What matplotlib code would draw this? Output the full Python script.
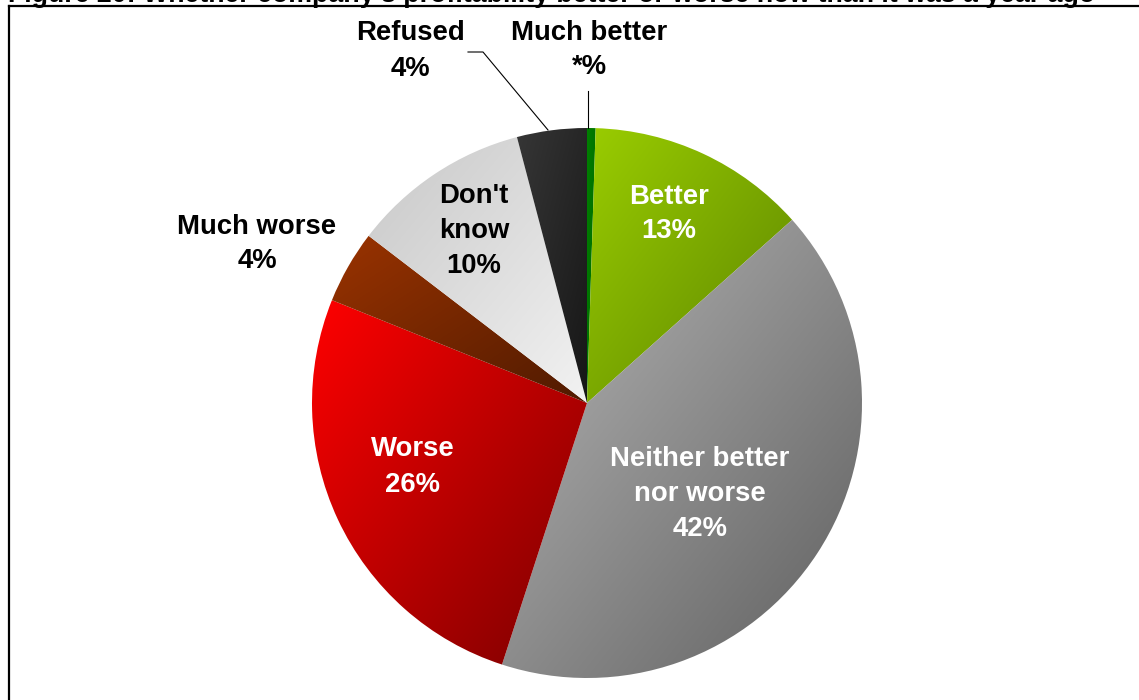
import numpy as np
import matplotlib
matplotlib.use("Agg")
import matplotlib.pyplot as plt
from matplotlib.colors import to_rgb

plt.rcParams['font.family'] = ['Liberation Sans', 'DejaVu Sans']

title = "Figure 20: Whether company's profitability better or worse now than it was a year ago"
categories = ["Much better", "Better", "Neither better\nnor worse", "Worse",
              "Much worse", "Don't\nknow", "Refused"]
values = [0.5, 12.9, 41.6, 26.1, 4.3, 10.5, 4.1]
pct_labels = ["*%", "13%", "42%", "26%", "4%", "10%", "4%"]
# gradient colours (start at upper-left, end at lower-right)
grad_start = ["#008000", "#9acd00", "#b8b8b8", "#ff0000", "#9a3300", "#c8c8c8", "#363636"]
grad_end = ["#006600", "#5c8400", "#5e5e5e", "#7a0000", "#4f1a00", "#f2f2f2", "#161616"]

W, H = 1139, 700
fig = plt.figure(figsize=(W / 100, H / 100), dpi=100)
ax = fig.add_axes([0, 0, 1, 1])

cx, cy, R = 587, H - 403, 275
wedges, _ = ax.pie(values, startangle=90, counterclock=False, center=(cx, cy),
                   radius=R, wedgeprops=dict(linewidth=0, edgecolor='none'),
                   frame=True)
ax.set_xlim(0, W)
ax.set_ylim(0, H)
ax.set_aspect('equal')
ax.axis('off')

n = 200
for w, c0, c1 in zip(wedges, grad_start, grad_end):
    w.set_facecolor('none')
    verts = w.get_path().vertices
    verts = w.get_patch_transform().transform(verts)
    x0, y0 = verts.min(axis=0)
    x1, y1 = verts.max(axis=0)
    gx, gy = np.meshgrid(np.linspace(0, 1, n), np.linspace(0, 1, n))
    t = (gx + gy) / 2.0  # row 0 is top (origin upper)
    a, b = np.array(to_rgb(c0)), np.array(to_rgb(c1))
    img = a[None, None, :] * (1 - t[..., None]) + b[None, None, :] * t[..., None]
    im = ax.imshow(img, extent=(x0, x1, y0, y1), origin='upper',
                   interpolation='bilinear', zorder=1)
    im.set_clip_path(w)
ax.set_xlim(0, W)
ax.set_ylim(0, H)

# labels (pixel positions from top)
label_pos = [(589, 50), (669, 214), (700, 494), (413, 467), (257, 244),
             (474, 231), (410, 51)]
label_col = ['black', 'white', 'white', 'white', 'black', 'black', 'black']
for name, pct, (lx, ly), col in zip(categories, pct_labels, label_pos, label_col):
    ax.text(lx, H - ly, f"{name}\n{pct}", ha='center', va='center',
            fontsize=19.8, fontweight='bold', color=col, linespacing=1.45, zorder=5)

# leader lines
ax.plot([468, 483, 548], [H - 52, H - 52, H - 130], color='black', lw=0.8, zorder=4)
ax.plot([587.5, 587.5], [H - 91, H - 128], color='black', lw=0.8, zorder=4)

# frame
ax.plot([9, 9], [0, H - 6], color='black', lw=1.6, zorder=6, solid_capstyle='projecting')
ax.plot([9, W + 5], [H - 6, H - 6], color='black', lw=1.6, zorder=6, solid_capstyle='projecting')

# title, mostly cut off at the top (as in the reference)
t = fig.text(8 / W, 1 - 1.5 / H, title, ha='left', va='baseline',
             fontsize=16, fontweight='bold')
fig.canvas.draw()
bb = t.get_window_extent()
t.set_fontsize(16 * 1084 / bb.width)

fig.savefig("out.png", dpi=100)
